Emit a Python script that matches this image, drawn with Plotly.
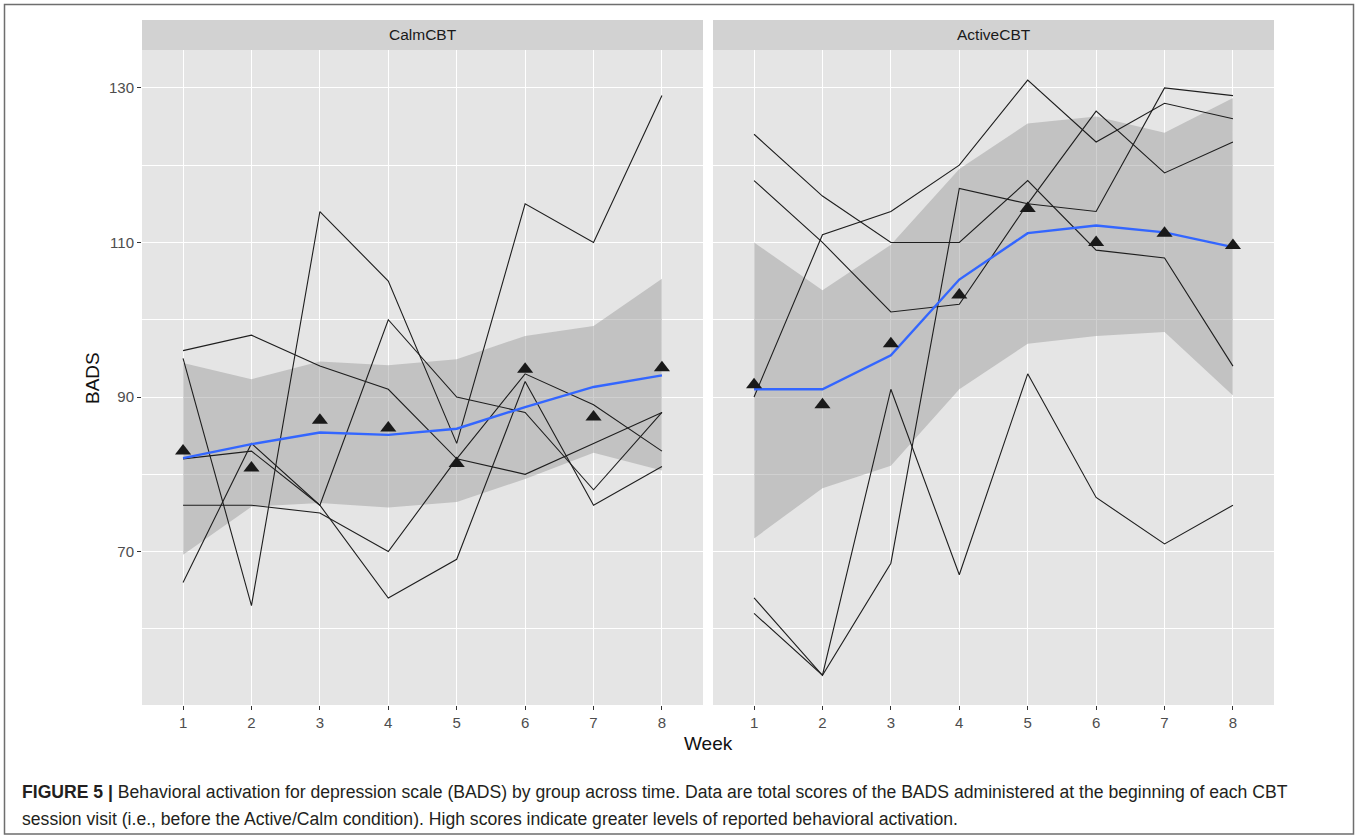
import plotly.graph_objects as go

# Weeks of CBT sessions
weeks = [1, 2, 3, 4, 5, 6, 7, 8]

# BADS total score per participant, CalmCBT group
calm_p1 = [96, 98, 94, 91, 82, 80, 84, 88]
calm_p2 = [95, 63, 114, 105, 84, 115, 110, 129]
calm_p3 = [66, 84, 76, 100, 90, 88, 78, 88]
calm_p4 = [76, 76, 75, 70, 82, 93, 89, 83]
calm_p5 = [82, 83, 76, 64, 69, 92, 76, 81]

# BADS total score per participant, ActiveCBT group
active_p1 = [124, 116, 110, 110, 118, 109, 108, 94]
active_p2 = [118, 110, 101, 102, 115, 127, 119, 123]
active_p3 = [90, 111, 114, 120, 131, 123, 128, 126]
active_p4 = [64, 54, 68.5, 117, 115, 114, 130, 129]
active_p5 = [62, 54, 91, 67, 93, 77, 71, 76]

# Smoothed group trend with its confidence band
calm_fit = [82.1, 83.9, 85.4, 85.1, 85.9, 88.7, 91.3, 92.8]
calm_lo = [69.6, 75.8, 76.3, 75.7, 76.4, 79.4, 82.8, 80.5]
calm_hi = [94.4, 92.3, 94.6, 94.1, 94.9, 97.9, 99.2, 105.3]

active_fit = [91.0, 91.0, 95.4, 105.2, 111.2, 112.2, 111.3, 109.4]
active_lo = [71.7, 78.2, 81.1, 91.0, 96.9, 97.9, 98.4, 90.2]
active_hi = [110.0, 103.8, 109.7, 119.5, 125.4, 126.3, 124.2, 128.7]

panel_names = ["CalmCBT", "ActiveCBT"]
y_ticks = [70, 90, 110, 130]
y_minor = [60, 80, 100, 120]

groups = [
    dict(name=panel_names[0], people=[calm_p1, calm_p2, calm_p3, calm_p4, calm_p5],
         fit=calm_fit, lo=calm_lo, hi=calm_hi, xa="x", ya="y"),
    dict(name=panel_names[1], people=[active_p1, active_p2, active_p3, active_p4, active_p5],
         fit=active_fit, lo=active_lo, hi=active_hi, xa="x2", ya="y2"),
]

W, H = 1359, 839
PANEL_BG = "rgb(229,229,229)"
STRIP_BG = "rgb(210,210,210)"
FONT = "Liberation Sans, Arial, sans-serif"

fig = go.Figure()

for g in groups:
    xa, ya = g["xa"], g["ya"]
    # confidence band
    fig.add_trace(go.Scatter(x=weeks, y=g["lo"], mode="lines", line=dict(width=0),
                             hoverinfo="skip", showlegend=False, xaxis=xa, yaxis=ya))
    fig.add_trace(go.Scatter(x=weeks, y=g["hi"], mode="lines", line=dict(width=0),
                             fill="tonexty", fillcolor="rgba(150,150,150,0.45)",
                             hoverinfo="skip", showlegend=False, xaxis=xa, yaxis=ya))
    # individual trajectories
    for vals in g["people"]:
        fig.add_trace(go.Scatter(x=weeks, y=vals, mode="lines",
                                 line=dict(color="rgb(30,30,30)", width=1.1),
                                 showlegend=False, xaxis=xa, yaxis=ya))
    # smoothed trend
    fig.add_trace(go.Scatter(x=weeks, y=g["fit"], mode="lines",
                             line=dict(color="#3366FF", width=2.4),
                             showlegend=False, xaxis=xa, yaxis=ya))
    # weekly group means
    means = [sum(v[i] for v in g["people"]) / len(g["people"]) for i in range(len(weeks))]
    fig.add_trace(go.Scatter(x=weeks, y=means, mode="markers",
                             marker=dict(symbol="triangle-up", size=14, color="rgb(25,25,25)"),
                             showlegend=False, xaxis=xa, yaxis=ya))

# panel geometry in pixels
px_left = (142, 703)
px_right = (713, 1274)
py_top, py_bot = 50, 705
strip_top = 20

def fx(p):
    return p / W

def fy(p):
    return 1 - p / H

xaxis_common = dict(range=[0.4, 8.6], tickvals=weeks, ticktext=[str(w) for w in weeks],
                    showgrid=True, gridcolor="white", gridwidth=1.3, zeroline=False,
                    ticks="outside", ticklen=4, tickwidth=1, tickcolor="#333333",
                    tickfont=dict(family=FONT, size=15, color="#4d4d4d"),
                    showline=False, fixedrange=True)
yaxis_common = dict(range=[50.15, 134.9], tickvals=y_ticks, showgrid=True, gridcolor="white",
                    gridwidth=1.3, zeroline=False,
                    minor=dict(tickvals=y_minor, showgrid=True, gridcolor="white", gridwidth=0.6,
                               ticks=""),
                    showline=False, fixedrange=True)

fig.update_layout(
    width=W, height=H,
    margin=dict(l=0, r=0, t=0, b=0),
    paper_bgcolor="white", plot_bgcolor=PANEL_BG,
    showlegend=False,
    xaxis=dict(domain=[fx(px_left[0]), fx(px_left[1])], anchor="y", **xaxis_common),
    xaxis2=dict(domain=[fx(px_right[0]), fx(px_right[1])], anchor="y2", **xaxis_common),
    yaxis=dict(domain=[fy(py_bot), fy(py_top)], anchor="x", ticks="outside", ticklen=4,
               tickwidth=1, tickcolor="#333333",
               tickfont=dict(family=FONT, size=15, color="#4d4d4d"), **yaxis_common),
    yaxis2=dict(domain=[fy(py_bot), fy(py_top)], anchor="x2", matches="y",
                showticklabels=False, ticks="", **yaxis_common),
)

shapes = []
annotations = []
# facet strips
for (x0, x1), name in zip([px_left, px_right], panel_names):
    shapes.append(dict(type="rect", xref="paper", yref="paper", x0=fx(x0), x1=fx(x1),
                       y0=fy(py_top), y1=fy(strip_top), fillcolor=STRIP_BG, line=dict(width=0),
                       layer="below"))
    annotations.append(dict(text=name, xref="paper", yref="paper", x=fx((x0 + x1) / 2),
                            y=fy((py_top + strip_top) / 2), showarrow=False,
                            font=dict(family=FONT, size=15.5, color="#1a1a1a"),
                            xanchor="center", yanchor="middle"))

# outer frame
shapes.append(dict(type="rect", xref="paper", yref="paper", x0=fx(4.5), x1=fx(1353.5),
                   y0=fy(834), y1=fy(4.5), line=dict(color="#6e6e6e", width=1.5),
                   fillcolor="rgba(0,0,0,0)"))

# axis titles
annotations.append(dict(text="Week", xref="paper", yref="paper", x=fx(708), y=fy(743),
                        showarrow=False, font=dict(family=FONT, size=19, color="#111111"),
                        xanchor="center", yanchor="middle"))
annotations.append(dict(text="BADS", xref="paper", yref="paper", x=fx(92), y=fy(378),
                        showarrow=False, textangle=-90,
                        font=dict(family=FONT, size=19, color="#111111"),
                        xanchor="center", yanchor="middle"))

# figure caption
caption_1 = ("<b>FIGURE 5 |</b> Behavioral activation for depression scale (BADS) by group across time. "
             "Data are total scores of the BADS administered at the beginning of each CBT")
caption_2 = ("session visit (i.e., before the Active/Calm condition). High scores indicate greater "
             "levels of reported behavioral activation.")
for txt, yy in [(caption_1, 792), (caption_2, 819)]:
    annotations.append(dict(text=txt, xref="paper", yref="paper", x=fx(20), y=fy(yy),
                            showarrow=False, font=dict(family=FONT, size=17.6, color="#231f20"),
                            xanchor="left", yanchor="middle"))

fig.update_layout(shapes=shapes, annotations=annotations)

fig.write_html("out.html")
